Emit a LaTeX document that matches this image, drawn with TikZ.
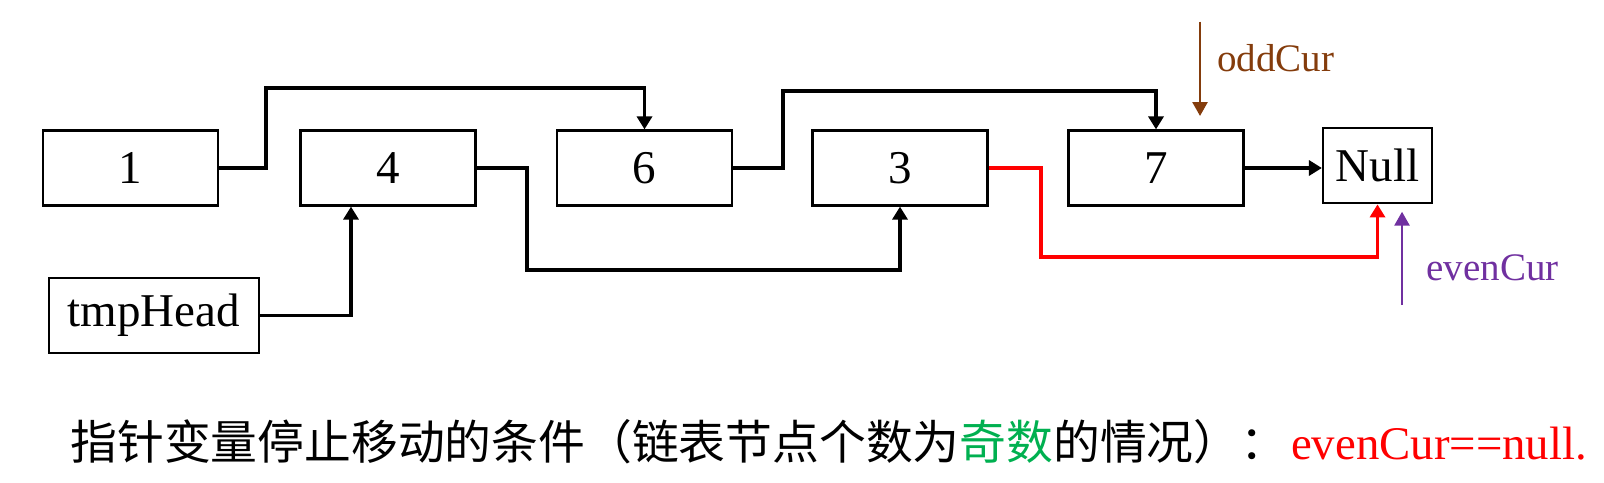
\documentclass[tikz,border=0pt]{standalone}
\usepackage{fontspec}
\setmainfont{Liberation Serif}
\newfontfamily\cjk{Noto Sans CJK SC}
\usetikzlibrary{arrows.meta,calc}
\definecolor{oddbrown}{HTML}{843C0C}
\definecolor{evenpurple}{HTML}{7030A0}
\definecolor{oddgreen}{HTML}{00B050}
\begin{document}
\begin{tikzpicture}[x=0.5pt,y=-0.5pt,
  box/.style={draw,line width=1.1pt,inner sep=0pt,minimum width=87.5pt,minimum height=37.5pt,font=\fontsize{23.5}{23.5}\selectfont},
  conn/.style={line width=1.7pt,-{Triangle[length=6.5pt,width=7.5pt]}},
  ptr/.style={line width=1.35pt,-{Triangle[length=7pt,width=7.5pt]}},
  ptrlabel/.style={anchor=west,inner sep=0pt,font=\fontsize{19.5}{19.5}\selectfont}]
\useasboundingbox (0,0) rectangle (1604,482);
\node[box] (n1) at (130.5,168) {1};
\node[box] (n4) at (388,168) {4};
\node[box] (n6) at (644.5,168) {6};
\node[box] (n3) at (900,168) {3};
\node[box] (n7) at (1156,168) {7};
\node[box,minimum width=54.5pt,minimum height=37.8pt] (null) at (1377.5,165.5) {Null};
\node[box,minimum width=105pt] (tmp) at (154,315.5) {tmpHead};
% links
\draw[conn] (n1.east) -| (266,88) -| (n6.north);
\draw[conn] (n4.east) -| (527,270) -| (n3.south);
\draw[conn] (tmp.east) -| ($(n4.south)+(-37,0)$);
\draw[conn] (n6.east) -| (783,91) -| (n7.north);
\draw[conn,red] (n3.east) -| (1041,257) -| (null.south);
\draw[conn] (n7.east) -- (n7.east -| null.west);
% pointers
\coordinate (oddtop) at (1200,21.7);
\coordinate (oddend) at (1200,116);
\draw[ptr,oddbrown] (oddtop) -- (oddend);
\node[ptrlabel,text=oddbrown] (oddlbl) at (1217,58) {oddCur};
\coordinate (evenbot) at (1402,305);
\coordinate (evenend) at (1402,211.7);
\draw[ptr,evenpurple] (evenbot) -- (evenend);
\node[ptrlabel,text=evenpurple] (evenlbl) at (1426,268) {evenCur};
% caption
\node[anchor=west,inner sep=0pt,font=\fontsize{23.4}{23.4}\selectfont] (cap) at (70,442)
  {{\cjk 指针变量停止移动的条件（链表节点个数为\textcolor{oddgreen}{奇数}的情况）：}\hspace{2pt}\textcolor{red}{evenCur==null.}};
\end{tikzpicture}
\end{document}
